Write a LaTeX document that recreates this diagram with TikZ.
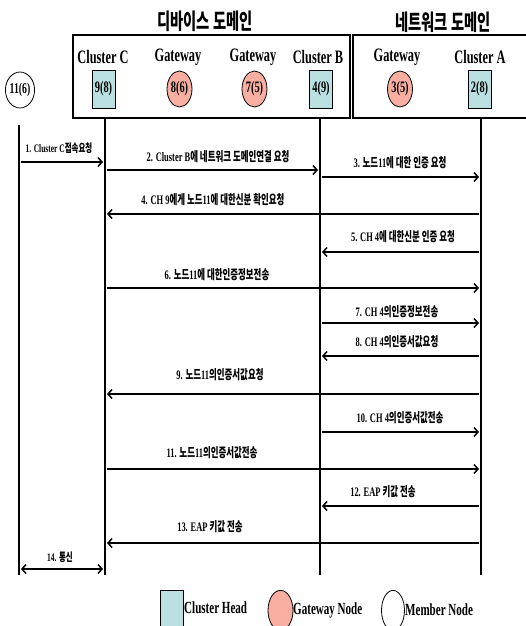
\documentclass[tikz,border=0pt]{standalone}
\usepackage{fontspec}
\setmainfont[FakeStretch=0.65]{Liberation Serif}
\newfontfamily\krfont[FakeStretch=0.65]{Noto Sans CJK KR}
\usetikzlibrary{arrows.meta,shapes.geometric}
\newcommand\K[1]{{\krfont\bfseries #1}}
\definecolor{chcol}{RGB}{186,224,226}
\definecolor{gwcol}{RGB}{248,174,160}
\tikzset{
  x=1pt, y=-1pt,
  lifeline/.style={line width=2.5pt},
  domainbox/.style={draw, line width=2.5pt},
  msg/.style={line width=1.8pt, shorten >=2pt, shorten <=2pt, -{Straight Barb[length=4pt,width=9pt,line width=1.5pt]}},
  msgboth/.style={line width=1.8pt, shorten >=2pt, shorten <=2pt, {Straight Barb[length=4pt,width=9pt,line width=1.5pt]}-{Straight Barb[length=4pt,width=9pt,line width=1.5pt]}},
  lbl/.style={font=\fontsize{13}{15}\selectfont\bfseries, inner sep=0},
  slbl/.style={font=\fontsize{11.5}{13}\selectfont\bfseries, inner sep=0},
  hdr/.style={font=\fontsize{19}{22}\selectfont\bfseries, inner sep=0},
  ttl/.style={font=\fontsize{22}{26}\selectfont\krfont\bfseries, inner sep=0},
  ch/.style={draw, line width=0.8pt, fill=chcol, minimum width=23pt, minimum height=38pt, inner sep=0, font=\fontsize{16}{18}\selectfont\bfseries},
  gw/.style={draw, ellipse, line width=0.8pt, fill=gwcol, minimum width=25pt, minimum height=36pt, inner sep=0, font=\fontsize{16}{18}\selectfont\bfseries},
  mb/.style={draw, ellipse, line width=0.8pt, fill=white, minimum width=23pt, minimum height=36pt, inner sep=0, font=\fontsize{15}{18}\selectfont\bfseries},
  leg/.style={font=\fontsize{17}{20}\selectfont\bfseries, inner sep=0, anchor=west},
}
\begin{document}
\begin{tikzpicture}
\clip (0,0) rectangle (526,626);
\fill[white] (0,0) rectangle (526,626);
% titles
\node[ttl] (tdev) at (205,21) {디바이스 도메인};
\node[ttl] (tnet) at (443,22) {네트워크 도메인};
% domain boxes
\draw[domainbox] (73,35) rectangle (350,118);
\draw[domainbox] (353,35) rectangle (540,118);
% headers
\node[hdr] (hC) at (103,57) {Cluster C};
\node[hdr] (hg1) at (178,57) {Gateway};
\node[hdr] (hg2) at (253,57) {Gateway};
\node[hdr] (hB) at (318,57) {Cluster B};
\node[hdr] (hg3) at (397,57) {Gateway};
\node[hdr] (hA) at (480,57) {Cluster A};
% nodes
\node[mb] (n11) at (20,90) {11(6)};
\node[ch] (n9) at (103.5,89) {9(8)};
\node[gw] (n8) at (179.5,89) {8(6)};
\node[gw] (n7) at (254.5,89) {7(5)};
\node[ch] (n4) at (321,89) {4(9)};
\node[gw] (n3) at (400,89) {3(5)};
\node[ch] (n2) at (479.5,89) {2(8)};
% lifelines
\coordinate (l11t) at (19,125);  \coordinate (l11b) at (19,575);
\coordinate (lCt) at (105,118);  \coordinate (lCb) at (105,575);
\coordinate (lBt) at (320,118);  \coordinate (lBb) at (320,575);
\coordinate (lAt) at (481,118);  \coordinate (lAb) at (481,575);
\draw[lifeline] (l11t) -- (l11b);
\draw[lifeline] (lCt) -- (lCb);
\draw[lifeline] (lBt) -- (lBb);
\draw[lifeline] (lAt) -- (lAb);
% messages
\draw[msg] (l11t |- 0,162) -- (lCt |- 0,162);
\node[slbl] (m1) at (59,148) {1. Cluster C\K{접속요청}};
\draw[msg] (lCt |- 0,170) -- (lBt |- 0,170);
\node[lbl] (m2) at (218,157) {2. Cluster B\K{에 네트워크 도메인연결 요청}};
\draw[msg] (lBt |- 0,177) -- (lAt |- 0,177);
\node[lbl] (m3) at (400,163) {3. \K{노드}11\K{에 대한 인증 요청}};
\draw[msg] (lAt |- 0,214) -- (lCt |- 0,214);
\node[lbl] (m4) at (213,200) {4. CH 9\K{에게 노드}11\K{에 대한신분 확인요청}};
\draw[msg] (lAt |- 0,252) -- (lBt |- 0,252);
\node[lbl] (m5) at (403,237) {5. CH 4\K{에 대한신분 인증 요청}};
\draw[msg] (lCt |- 0,288) -- (lAt |- 0,288);
\node[lbl] (m6) at (217,275) {6. \K{노드}11\K{에 대한인증정보전송}};
\draw[msg] (lBt |- 0,323) -- (lAt |- 0,323);
\node[lbl] (m7) at (397,312) {7. CH 4\K{의인증정보전송}};
\draw[msg] (lAt |- 0,356) -- (lBt |- 0,356);
\node[lbl] (m8) at (397,342) {8. CH 4\K{의인증서값요청}};
\draw[msg] (lAt |- 0,394) -- (lCt |- 0,394);
\node[lbl] (m9) at (220,375) {9. \K{노드}11\K{의인증서값요청}};
\draw[msg] (lBt |- 0,432) -- (lAt |- 0,432);
\node[lbl] (m10) at (400,418) {10. CH 4\K{의인증서값전송}};
\draw[msg] (lCt |- 0,469) -- (lAt |- 0,469);
\node[lbl] (m11) at (212,453) {11. \K{노드}11\K{의인증서값전송}};
\draw[msg] (lAt |- 0,506) -- (lBt |- 0,506);
\node[lbl] (m12) at (383,492) {12. EAP \K{키값 전송}};
\draw[msg] (lAt |- 0,543) -- (lCt |- 0,543);
\node[lbl] (m13) at (210,527) {13. EAP \K{키값 전송}};
\draw[msgboth] (l11t |- 0,569) -- (lCt |- 0,569);
\node[slbl] (m14) at (60,557) {14. \K{통신}};
% legend
\node[ch, minimum height=40pt, anchor=north] (lg1) at (171.5,590) {};
\node[leg] (lt1) at (184,608) {Cluster Head};
\node[gw, minimum height=40pt, anchor=north] (lg2) at (280.5,590) {};
\node[leg] (lt2) at (293,610) {Gateway Node};
\node[mb, minimum height=40pt, anchor=north] (lg3) at (393,590) {};
\node[leg] (lt3) at (405,610) {Member Node};
\end{tikzpicture}
\end{document}
